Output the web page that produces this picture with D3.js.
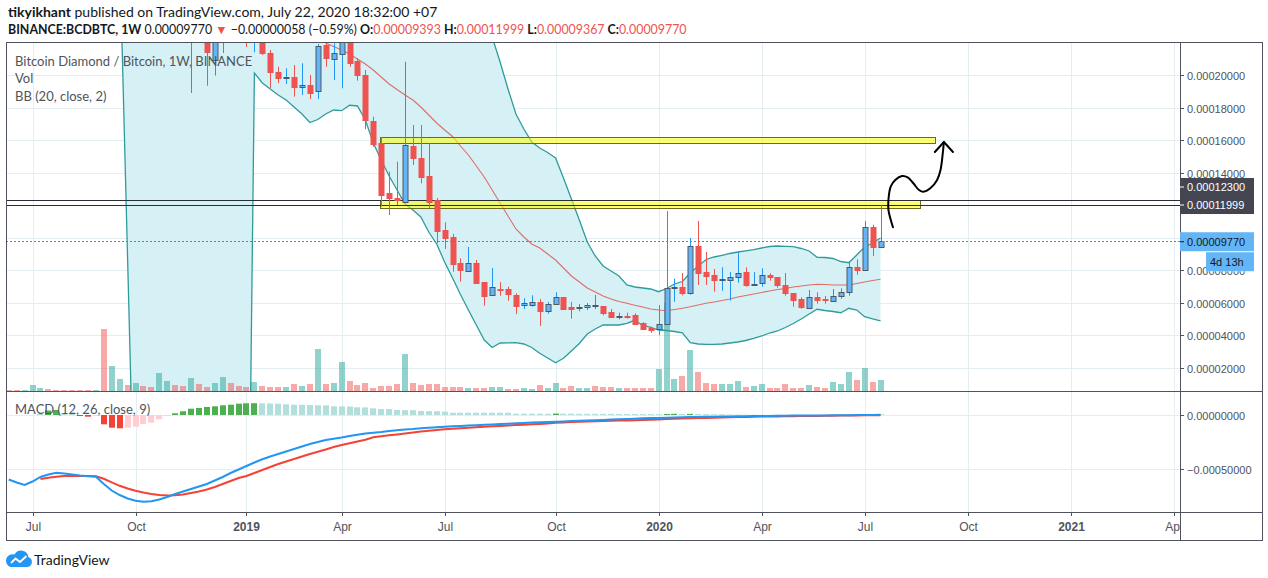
<!DOCTYPE html>
<html><head><meta charset="utf-8">
<script src="https://cdn.jsdelivr.net/npm/d3@7"></script>
<style>
html,body{margin:0;padding:0;background:#fff;}
svg{display:block;}
</style></head>
<body><svg id="c" width="1268" height="578"></svg>
<script>
// ---------------- DATA (prices in units of 1e-8 BTC) ----------------
const firstWeek = "2018-06-11", lastWeek = "2020-07-20";      // weekly bars (Mondays)
const candleFirstWeek = "2018-11-19";                           // first candle drawn

// weekly volume (relative units) and direction (1 = up/teal, 0 = down/red)
const volume = [25,25,25,150,75,50,25,25,25,25,25,25,1550,625,300,150,200,125,100,450,250,150,125,325,175,100,200,350,200,125,100,225,125,100,100,100,175,125,175,1050,175,200,725,250,150,200,75,125,125,175,925,200,150,175,175,100,
100,100,75,75,75,100,100,50,50,75,50,150,75,200,75,125,75,75,125,100,100,75,75,75,75,75,550,2200,300,375,1025,475,200,175,175,175,250,100,125,175,75,75,175,75,75,150,100,75,225,175,475,275,575,225,275];
const volumeUp = [0,0,1,1,1,0,0,0,0,0,0,1,0,1,1,0,1,0,0,1,1,0,0,1,0,0,1,1,0,0,0,1,0,0,0,1,0,1,0,1,0,1,1,0,0,0,0,0,0,0,1,0,0,0,0,0,
0,0,1,0,0,1,1,0,0,1,1,0,1,1,0,0,1,1,0,0,0,1,0,0,0,0,1,1,1,0,1,0,0,0,1,1,1,0,1,1,0,0,0,0,0,1,0,0,1,1,1,0,1,0,1];

// candles from 2018-11-19 to 2020-07-20
const open  = [22600,27000,24000,20924,22300,24500,23800,23000,22100,22500,21336,20204,19858,19858,19243,19385,19034,21847,20966,21293,22400,20862,20001,17170,15797,12720,12413,12203,15631,14911,13785,12308,10462,10031,8431,7920,8431,7262,6419,6810,6831,6462,5803,5803,6012,5434,5889,6320,5723,5680,5705,5840,5785,5416,5140,5175,5249,4739,4449,4326,4634,6874,6954,6603,9477,7877,7693,7420,7385,7526,7877,7130,7182,7674,7551,7059,6585,6197,5662,6320,6200,6074,6357,6646,8166,7957,10628,9393];
const high  = [26000,28000,25000,23500,24500,25500,24200,23600,23200,22900,21539,20511,20413,20616,20721,20001,21908,21951,21951,22800,22700,21028,20308,17434,16185,14050,14665,20819,16924,16924,15797,12431,10936,10216,8720,9416,8616,7262,8123,7262,6973,6566,6259,6443,6216,6031,6628,6320,6031,5908,5969,6462,5785,5600,5372,5372,5335,4782,4511,5846,11631,7465,7816,9969,11016,9108,8062,8166,7877,9108,8166,7877,8105,7797,7551,7816,6585,6320,6769,6628,6400,6831,6874,8536,8659,11016,10788,11999];
const low   = [18893,23000,19342,19963,21354,22400,22300,21723,21397,21231,19200,19490,19446,18665,18770,18524,18524,20511,19693,19182,20511,19650,16659,15588,11896,11385,12000,12105,14462,13336,11736,9643,9293,7896,7280,7920,7219,5803,6419,6419,6111,5292,5600,5742,4554,5311,5889,5600,5003,5459,5539,5600,5212,5046,4966,5003,4677,4351,4142,3982,4634,6049,6443,6480,7077,7077,6665,6726,6111,7219,6973,7059,6973,7342,6911,6419,5742,5619,5619,5926,5926,6074,6234,6419,7711,7957,8862,9367];
const close = [25000,24000,21415,22800,23500,23000,23000,22200,22600,21336,20142,19858,19870,19219,19385,18911,21804,21028,21336,22400,20757,20001,17231,15754,12573,12413,12265,15693,14874,13742,12203,10419,9988,8388,8000,8413,7219,6419,6936,6790,6542,5803,5951,6012,5434,5889,6320,5600,5582,5700,5828,5850,5372,5108,5150,5160,4677,4388,4351,4659,6874,6936,6603,9477,7834,7631,7385,7428,7551,7797,7077,7139,7674,7526,7034,6542,6154,5705,6320,6111,6190,6382,6628,8166,7957,10628,9372,9770];

// Bollinger Bands (20, close, 2) per weekly bar
const bbUpper = [34000,34200,34400,34500,34600,34700,34800,34900,35000,35100,35000,34200,32500,31000,30500,47300,64000,
67000,69000,70600,71200,71800,71900,72000,72100,72000,71600,70900,70200,69600,68860,
26676,27092,27261,27430,27538,27769,28000,28223,27738,26340,25663,25274,24450,23877,24123,24800,24984,25109,25293,25478,25231,24800,24739,24494,24739,24924,24770,24615,24184,23754,
22339,20801,19139,17600,16677,15877,15508,15231,14893,13662,12370,11077,9723,8862,8246,7939,7631,7077,6954,6892,6831,6665,6862,7139,7292,7816,8246,8646,8800,8905,9016,9108,9182,9256,9354,9446,9477,9459,9434,9323,9169,8782,8769,8708,8523,8449,8923,9416,9662,9969];
const bbLower = [28000,28200,28400,28500,28600,28700,28800,28900,29000,28500,28000,27800,28500,29000,27500,8677,-10154,
-14000,-17000,-19000,-20000,-21000,-21500,-22000,-22500,-22800,-22800,-22500,-22200,-22000,-21660,
20124,19508,19139,18770,18462,18031,17600,17077,17262,17600,17847,17804,18136,18093,17231,15816,14770,13785,12923,12062,11693,11262,10339,9600,8493,7508,6492,5539,4616,3692,
3231,3508,3520,3526,3446,3231,2880,2585,2295,2566,3015,3477,4062,4369,4616,4616,4616,4720,4905,4585,4462,4308,4277,4215,4135,3526,3446,3428,3428,3446,3508,3569,3662,3785,3939,4123,4246,4462,4708,4985,5292,5582,5508,5446,5372,5643,5539,5126,4985,4862];
const bbBasis = [31000,31200,31400,31500,31600,31700,31800,31900,32000,31800,31500,31000,30500,30000,29000,28000,27000,26500,26000,25800,25600,25400,25200,25000,24800,24600,24400,24200,24000,23800,23600,23400,23300,23200,23100,23000,22900,22800,22650,22500,
21970,21755,21539,21293,20985,20677,20308,19877,19447,19108,18770,18462,18031,17539,17047,16616,16216,15631,15077,14400,13723,12923,12123,11323,10523,10031,9600,9354,8985,8616,8123,7631,7262,6892,6646,6400,6216,6062,5951,5828,5723,5600,5539,5495,5569,5643,5735,5846,5951,6031,6123,6216,6339,6431,6523,6616,6708,6800,6862,6954,7016,7077,7120,7108,7077,7077,7077,7169,7262,7354,7428];

// MACD (12, 26, close, 9) per weekly bar
const macdLine = [-59392,-62154,-64456,-61233,-57090,-54788,-53130,-53867,-54788,-55708,
-56445,-56813,-63535,-69520,-73664,-76887,-79005,-79925,-79465,-77808,
-75506,-72743,-70441,-68139,-65837,-63535,-60312,-57090,-53406,-50184,
-46961,-43738,-40791,-38213,-35911,-33609,-31307,-29005,-26703,-24862,
-23020,-21915,-20718,-19337,-18232,-17035,-16390,-15654,-14733,-14088,
-13352,-12891,-12247,-11786,-11234,-10773,-10405,-10129,-9760,-9392,
-9024,-8656,-8287,-8011,-7643,-7366,-6998,-6722,-6446,-6169,
-5893,-5617,-5341,-5064,-4788,-4512,-4236,-3959,-3683,-3407,
-3039,-2854,-2670,-2486,-2302,-2118,-1934,-1842,-1657,-1565,
-1381,-1289,-1197,-1105,-1013,-921,-829,-737,-645,-552,
-460,-460,-368,-368,-276,-276,-184,-92,0,92,184];
const signalLine = [null,null,null,null,-58931,-57826,-56813,-56169,-56169,-56169,
-56169,-56353,-58747,-61970,-65193,-67679,-69705,-71362,-72743,-73664,
-74032,-73940,-73204,-71822,-70441,-68600,-66298,-63535,-60773,-58010,
-56169,-53406,-50644,-47882,-45119,-42817,-40515,-38213,-35911,-33885,
-31768,-29466,-27624,-25967,-24401,-22744,-20442,-19521,-18692,-17956,
-17127,-16206,-15285,-14457,-13812,-13167,-12707,-12247,-11786,-11326,
-10865,-10405,-10037,-9668,-9300,-8932,-8563,-8195,-7827,-7090,
-6814,-6538,-6261,-5985,-5801,-5525,-5341,-5156,-4972,-4788,
-4604,-4328,-4052,-3775,-3499,-3223,-3039,-2854,-2670,-2486,
-2302,-2118,-1934,-1750,-1565,-1473,-1381,-1289,-1197,-1105,
-1013,-921,-829,-737,-645,-552,-460,-368,-276,-276,-184];
const macdHist = [null,null,null,null,921,4144,4604,1842,921,-921,
-1565,-645,-8563,-11694,-12247,-11694,-10773,-8287,-7090,-3959,
-921,1565,3407,5801,6446,7366,8011,8932,9484,10405,
10773,10865,10773,10681,10405,9853,9484,9392,9208,8932,
8840,8011,7919,7827,7090,6998,6169,5525,5433,4604,
4512,4420,3683,3591,3499,3039,2118,2118,2118,2118,
2118,2118,2118,2118,1197,1197,1197,1197,1105,1289,
1197,1197,1105,1105,1105,1013,1013,921,921,921,
829,829,737,921,1105,921,1013,921,829,737,
645,460,368,276,276,184,184,184,92,92,
92,92,0,0,0,0,0,0,0,0,276];

// axis ticks
const priceTicks = [2000,4000,6000,8000,10000,12000,14000,16000,18000,20000];
const macdTicks = [0,-50000];
const timeTickDates  = ["2018-07-02","2018-10-01","2019-01-07","2019-04-01","2019-07-01","2019-10-07","2020-01-06","2020-04-06","2020-07-06","2020-10-05","2021-01-04","2021-04-05"];
const timeTickLabels = ["Jul","Oct","2019","Apr","Jul","Oct","2020","Apr","Jul","Oct","2021","Apr"];
const timeTickBold   = [0,0,1,0,0,0,1,0,0,0,1,0];

// user drawings
const levelLines = [12300, 11999];
const zoneStart = "2019-05-05";
const zoneEnds = ["2020-09-06","2020-08-24"];
const zoneLows = [15785, 11797];
const zoneHighs = [16167, 12277];
const arrowDates  = ["2020-07-31","2020-07-27","2020-07-27","2020-07-29","2020-08-02","2020-08-08","2020-08-13","2020-08-18","2020-08-23","2020-08-27","2020-09-02","2020-09-08","2020-09-11","2020-09-13","2020-09-14"];
const arrowPrices = [10628,11693,12308,13126,13539,13785,13705,13336,12923,12819,13028,13539,14154,15182,15877];
const headDates  = ["2020-09-06","2020-09-14","2020-09-22"];
const headPrices = [15262,15877,15262];
const lastPrice = 9770;
const countdown = "4d 13h";

// header text
const author = "tikyikhant", pubText = " published on TradingView.com, July 22, 2020 18:32:00 +07";
const symbolText = "BINANCE:BCDBTC, 1W";
const changeText = " \u22120.00000058 (\u22120.59%) ";

// ---------------- LAYOUT ----------------
const LEFT=6, AXIS_X=1180, RIGHT=1263, TOP=42, PRICE_BOT=391, MACD_BOT=512, TIME_BOT=541;
const FONT_UI = "Lato, 'Open Sans', sans-serif";
const FONT_AX = "'Liberation Sans', Arial, sans-serif";
const svg = d3.select("#c");
const parse = d3.utcParse("%Y-%m-%d");
const fmt = v => (v < 0 ? "\u2212" : "") + (Math.abs(v) / 1e8).toFixed(8);

const weeks = d3.utcMonday.range(parse(firstWeek), d3.utcDay.offset(parse(lastWeek), 1));
const candleStartIdx = weeks.findIndex(d => +d === +parse(candleFirstWeek));

const x  = d3.scaleUtc().domain([parse("2018-07-02"), parse(lastWeek)]).range([32.5, 880.5]);
const yP = d3.scaleLinear().domain([0, 20000]).range([400, 75]);
const yV = d3.scaleLinear().domain([0, d3.max(volume)]).range([PRICE_BOT, 303]);
const yM = d3.scaleLinear().domain([0, -50000]).range([415, 469.3]);
const px = v => Math.round(v) + 0.5;

const defs = svg.append("defs");
defs.append("clipPath").attr("id","cp").append("rect").attr("x",LEFT).attr("y",TOP).attr("width",AXIS_X-LEFT).attr("height",PRICE_BOT-TOP);
defs.append("clipPath").attr("id","cm").append("rect").attr("x",LEFT).attr("y",PRICE_BOT+1).attr("width",AXIS_X-LEFT).attr("height",MACD_BOT-PRICE_BOT-1);
defs.append("clipPath").attr("id","ct").append("rect").attr("x",LEFT).attr("y",MACD_BOT).attr("width",AXIS_X-LEFT).attr("height",TIME_BOT-MACD_BOT);

// ---------- grid ----------
const grid = svg.append("g").attr("stroke","#e4edf2").attr("stroke-width",1);
timeTickDates.forEach(d => {
  const xx = px(x(parse(d)));
  if (xx < AXIS_X) grid.append("line").attr("x1",xx).attr("x2",xx).attr("y1",TOP).attr("y2",MACD_BOT);
});
priceTicks.forEach(v => grid.append("line").attr("x1",LEFT).attr("x2",AXIS_X).attr("y1",px(yP(v))).attr("y2",px(yP(v))));
macdTicks.forEach(v => grid.append("line").attr("x1",LEFT).attr("x2",AXIS_X).attr("y1",px(yM(v))).attr("y2",px(yM(v))));

// ---------- price pane ----------
const pp = svg.append("g").attr("clip-path","url(#cp)");
const bars = weeks.map((d,i) => ({d, i, u:bbUpper[i], l:bbLower[i], b:bbBasis[i], v:volume[i], up:volumeUp[i]}));

pp.append("path").datum(bars)
  .attr("d", d3.area().x(d=>x(d.d)).y0(d=>yP(d.l)).y1(d=>yP(d.u)))
  .attr("fill","#d5f1f5");

pp.append("g").selectAll("rect").data(bars).join("rect")
  .attr("x", d=>Math.round(x(d.d))-3).attr("width",6)
  .attr("y", d=>yV(d.v)).attr("height", d=>PRICE_BOT-yV(d.v))
  .attr("fill", d=>d.up ? "rgba(38,166,154,0.5)" : "rgba(239,83,80,0.5)");

const bbLine = key => d3.line().x(d=>x(d.d)).y(d=>yP(d[key]));
pp.append("path").datum(bars).attr("d",bbLine("u")).attr("fill","none").attr("stroke","#2e9c9a").attr("stroke-width",1.3);
pp.append("path").datum(bars).attr("d",bbLine("l")).attr("fill","none").attr("stroke","#2e9c9a").attr("stroke-width",1.3);
pp.append("path").datum(bars).attr("d",bbLine("b")).attr("fill","none").attr("stroke","#e06d68").attr("stroke-width",1.1);

// zones
zoneEnds.forEach((e,i) => {
  const x0 = x(parse(zoneStart)), x1 = x(parse(e));
  pp.append("rect").attr("x",px(x0)).attr("width",Math.round(x1-x0))
    .attr("y",px(yP(zoneHighs[i]))).attr("height",Math.round(yP(zoneLows[i])-yP(zoneHighs[i])))
    .attr("fill","rgba(255,255,0,0.55)").attr("stroke","#6b6b1f").attr("stroke-width",1);
});
// level lines
levelLines.forEach(v => pp.append("line").attr("x1",LEFT).attr("x2",AXIS_X).attr("y1",px(yP(v))).attr("y2",px(yP(v)))
  .attr("stroke","#2a2e39").attr("stroke-width",1));

// candles
const candles = open.map((o,k) => ({d: weeks[candleStartIdx+k], o, h:high[k], l:low[k], c:close[k]}));
const cg = pp.append("g");
candles.forEach(c => {
  const up = c.c >= c.o;
  const cx = px(x(c.d));
  cg.append("line").attr("x1",cx).attr("x2",cx).attr("y1",yP(c.h)).attr("y2",yP(c.l))
    .attr("stroke", up ? "#2196f3" : "#ef5350").attr("stroke-width",1);
  const yt = yP(Math.max(c.o,c.c)), yb = yP(Math.min(c.o,c.c));
  cg.append("rect").attr("x",cx-2.5).attr("width",5)
    .attr("y",Math.round(yt)+0.5).attr("height",Math.max(1,Math.round(yb-yt)))
    .attr("fill", up ? "#64b5f6" : "#ef5350").attr("stroke", up ? "#4e5966" : "#ef5350").attr("stroke-width",1);
});

// last price line
pp.append("line").attr("x1",LEFT).attr("x2",AXIS_X).attr("y1",px(yP(lastPrice))).attr("y2",px(yP(lastPrice)))
  .attr("stroke","#2196f3").attr("stroke-width",1).attr("stroke-dasharray","2,2");

// hand-drawn arrow
const ap = arrowDates.map((d,i)=>[x(parse(d)), yP(arrowPrices[i])]);
pp.append("path").attr("d", d3.line().curve(d3.curveCatmullRom)(ap))
  .attr("fill","none").attr("stroke","#000").attr("stroke-width",2).attr("stroke-linecap","round");
const hp = headDates.map((d,i)=>[x(parse(d)), yP(headPrices[i])]);
pp.append("path").attr("d", d3.line()(hp)).attr("fill","none").attr("stroke","#000").attr("stroke-width",2).attr("stroke-linecap","round").attr("stroke-linejoin","round");

// legends
const lg = svg.append("g").attr("font-family",FONT_UI).attr("font-size",13).attr("fill","#4f545c");
lg.append("text").attr("x",15).attr("y",66).text("Bitcoin Diamond / Bitcoin, 1W, BINANCE");
lg.append("text").attr("x",15).attr("y",83).text("Vol");
lg.append("text").attr("x",15).attr("y",101).text("BB (20, close, 2)");

// ---------- MACD pane ----------
const mp = svg.append("g").attr("clip-path","url(#cm)");
const mdata = weeks.map((d,i)=>({d, m:macdLine[i], s:signalLine[i], h:macdHist[i], prev: i>0 ? macdHist[i-1] : null}));
mp.append("g").selectAll("rect").data(mdata.filter(d=>d.h!=null)).join("rect")
  .attr("x", d=>Math.round(x(d.d))-3).attr("width",6)
  .attr("y", d=>Math.min(yM(0),yM(d.h))).attr("height", d=>Math.abs(yM(d.h)-yM(0)))
  .attr("fill", d => {
    const rising = d.prev != null && d.h > d.prev;
    if (d.h >= 0) return rising ? "#4caf50" : "#b2dfdb";
    return rising ? "#ffcdd2" : "#f44336";
  });
mp.append("path").datum(mdata.filter(d=>d.s!=null)).attr("d", d3.line().x(d=>x(d.d)).y(d=>yM(d.s)))
  .attr("fill","none").attr("stroke","#f44336").attr("stroke-width",2);
mp.append("path").datum(mdata).attr("d", d3.line().x(d=>x(d.d)).y(d=>yM(d.m)))
  .attr("fill","none").attr("stroke","#2196f3").attr("stroke-width",2);
svg.append("text").attr("x",15).attr("y",414).attr("font-family",FONT_UI).attr("font-size",13).attr("fill","#4f545c").text("MACD (12, 26, close, 9)");

// ---------- frame ----------
const fr = svg.append("g").attr("stroke","#50535e").attr("stroke-width",1).attr("fill","none");
fr.append("rect").attr("x",LEFT+0.5).attr("y",TOP+0.5).attr("width",RIGHT-LEFT-1).attr("height",TIME_BOT-TOP-1);
fr.append("line").attr("x1",AXIS_X+0.5).attr("x2",AXIS_X+0.5).attr("y1",TOP).attr("y2",TIME_BOT);
fr.append("line").attr("x1",LEFT).attr("x2",RIGHT).attr("y1",PRICE_BOT+0.5).attr("y2",PRICE_BOT+0.5);
fr.append("line").attr("x1",LEFT).attr("x2",RIGHT).attr("y1",MACD_BOT+0.5).attr("y2",MACD_BOT+0.5);

// ---------- overlay price label boxes ----------
const lblH = 18;
const b2 = yP(levelLines[1]) - lblH/2;
const b1 = Math.min(yP(levelLines[0]) - lblH/2, b2 - lblH);
const yl = yP(lastPrice);
const boxes = [
  {x:AXIS_X, y:b1, w:74, h:lblH, fill:"#434651", text:fmt(levelLines[0]), tc:"#fff", tx:AXIS_X+7},
  {x:AXIS_X, y:b2, w:74, h:lblH, fill:"#434651", text:fmt(levelLines[1]), tc:"#fff", tx:AXIS_X+7},
  {x:AXIS_X, y:yl-9, w:74, h:19, fill:"#64b5f6", text:fmt(lastPrice), tc:"#131722", tx:AXIS_X+7},
  {x:AXIS_X+26, y:yl+11, w:48, h:19, fill:"#64b5f6", text:countdown, tc:"#131722", tx:AXIS_X+30}
];

// ---------- right axis ----------
const ax = svg.append("g").attr("font-family",FONT_AX).attr("font-size",11).attr("fill","#50535e");
defs.append("clipPath").attr("id","cax").append("path")
  .attr("d", `M${AXIS_X} ${TOP} H${RIGHT} V${yl+11} H${AXIS_X+26} V${yl+30} H${RIGHT} V${PRICE_BOT} H${AXIS_X} Z`);
priceTicks.forEach(v => {
  const yy = px(yP(v));
  ax.append("line").attr("x1",AXIS_X).attr("x2",AXIS_X+4).attr("y1",yy).attr("y2",yy).attr("stroke","#50535e");
  // labels fully under an overlay box are not drawn (they are hidden in the original too)
  const hidden = boxes.some(b => b.w >= 74 && yy-6 >= b.y-2 && yy+6 <= b.y+b.h+2);
  if (!hidden) ax.append("text").attr("x",AXIS_X+7).attr("y",yy+4).attr("clip-path","url(#cax)").text(fmt(v));
});
macdTicks.forEach(v => {
  const yy = px(yM(v));
  ax.append("line").attr("x1",AXIS_X).attr("x2",AXIS_X+4).attr("y1",yy).attr("y2",yy).attr("stroke","#50535e");
  ax.append("text").attr("x",AXIS_X+7).attr("y",yy+4).text(fmt(v));
});
boxes.forEach(b => {
  svg.append("rect").attr("x",b.x).attr("y",b.y).attr("width",b.w).attr("height",b.h).attr("fill",b.fill);
  if (b.w >= 74) svg.append("line").attr("x1",AXIS_X).attr("x2",AXIS_X+4).attr("y1",b.y+b.h/2).attr("y2",b.y+b.h/2).attr("stroke",b.tc);
  svg.append("text").attr("x",b.tx).attr("y",b.y+b.h/2+4).attr("font-family",FONT_AX).attr("font-size",11).attr("fill",b.tc).text(b.text);
});

// ---------- time axis ----------
const tg = svg.append("g").attr("clip-path","url(#ct)").attr("font-family",FONT_AX).attr("font-size",12).attr("fill","#50535e");
timeTickDates.forEach((d,i) => {
  const xx = px(x(parse(d)));
  tg.append("line").attr("x1",xx).attr("x2",xx).attr("y1",MACD_BOT).attr("y2",MACD_BOT+4).attr("stroke","#50535e");
  tg.append("text").attr("x",xx).attr("y",531).attr("text-anchor","middle")
    .attr("font-weight", timeTickBold[i] ? "bold" : "normal").text(timeTickLabels[i]);
});

// ---------- header ----------
const h1 = svg.append("text").attr("x",8).attr("y",17).attr("font-family",FONT_UI).attr("font-size",14).attr("fill","#131722");
h1.append("tspan").attr("font-weight","bold").text(author);
h1.append("tspan").text(pubText);
const red = "#ef5350";
const h2 = svg.append("text").attr("x",8).attr("y",34).attr("font-family",FONT_UI).attr("font-size",12.4).attr("fill","#131722");
h2.append("tspan").attr("font-weight","bold").text(symbolText);
h2.append("tspan").text(" " + fmt(close[close.length-1]) + " ");
h2.append("tspan").attr("fill",red).text("\u25BC");
h2.append("tspan").text(changeText);
[["O:",open],["H:",high],["L:",low],["C:",close]].forEach(([lab,arr],i) => {
  h2.append("tspan").attr("font-weight","bold").text((i? " ":"") + lab);
  h2.append("tspan").attr("fill",red).text(fmt(arr[arr.length-1]));
});

// ---------- logo ----------
const logo = svg.append("g");
logo.append("path").attr("d","M10.5 567 H27.5 A5 5 0 0 0 28.5 557.3 A7.5 7.5 0 0 0 14.5 554.5 A6.3 6.3 0 0 0 10.5 567 Z").attr("fill","#2196f3");
logo.append("path").attr("d","M11 563 L15.5 558.5 L20 562 L26.5 556").attr("fill","none").attr("stroke","#fff").attr("stroke-width",1.8);
svg.append("text").attr("x",34).attr("y",565).attr("font-family",FONT_UI).attr("font-size",14).attr("fill","#131722").text("TradingView");
</script>
</body></html>
